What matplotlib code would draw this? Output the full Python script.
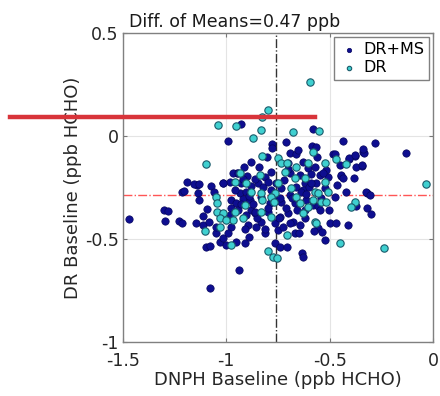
import matplotlib
matplotlib.use("Agg")
import matplotlib.pyplot as plt
from matplotlib.lines import Line2D

title_text = "Diff. of Means=0.47 ppb"
x_label = "DNPH Baseline (ppb HCHO)"
y_label = "DR Baseline (ppb HCHO)"
series_names = ["DR+MS", "DR"]
x_ticks = [-1.5, -1.0, -0.5, 0.0]
x_ticklabels = ["-1.5", "-1", "-0.5", "0"]
y_ticks = [-1.0, -0.5, 0.0, 0.5]
y_ticklabels = ["-1", "-0.5", "0", "0.5"]
mean_dnph = -0.76
mean_dr = -0.285

drms_x = [-0.93, -0.582, -0.992, -0.779, -0.711, -0.587, -0.437, -0.281, -0.131, -0.337,
          -0.377, -0.482, -0.406, -0.345, -0.447, -0.381, -0.321, -1.192, -1.216, -1.143,
          -1.074, -1.018, -0.947, -0.901, -0.914, -0.805, -0.693, -0.661, -0.629, -0.560,
          -0.605, -0.570, -0.516, -0.879, -0.968, -0.944, -0.812, -0.782, -0.693, -0.645,
          -0.592, -0.548, -0.508, -0.568, -0.984, -0.928, -0.879, -0.847, -0.823, -0.798,
          -0.758, -0.734, -0.661, -0.621, -0.629, -0.524, -0.936, -0.903, -0.693, -0.976,
          -0.952, -0.919, -0.887, -0.831, -0.790, -0.734, -0.669, -0.613, -0.581, -0.557,
          -0.976, -0.944, -0.879, -0.984, -0.903, -0.863, -0.798, -0.742, -0.702, -0.621,
          -0.677, -0.645, -0.557, -0.500, -0.831, -0.766, -0.895, -0.976, -1.158, -1.132,
          -1.016, -1.206, -1.137, -1.132, -1.303, -1.282, -1.471, -1.298, -1.229, -1.213,
          -1.113, -1.094, -1.148, -1.113, -1.084, -0.476, -0.452, -0.406, -0.379, -0.374,
          -0.342, -0.335, -0.444, -0.436, -0.465, -0.422, -0.323, -0.303, -0.476, -0.371,
          -0.319, -0.299, -0.468, -0.411, -1.100, -1.078, -1.032, -1.016, -1.051, -1.078,
          -1.000, -0.952, -0.911, -0.892, -0.814, -0.750, -0.669, -0.536, -0.521, -0.766,
          -0.742, -0.705, -0.634, -0.629, -0.939, -0.565, -0.653, -0.339,
          -0.860, -0.840, -0.720, -0.700, -0.680, -0.640, -0.600, -0.540, -0.530, -0.890,
          -0.870, -0.850, -0.800, -0.770, -0.740, -0.710, -0.660, -0.620, -0.590, -0.930,
          -0.910, -0.960, -0.855, -0.815, -0.725, -0.690, -0.650, -0.575, -0.545, -0.990,
          -1.050, -1.060, -0.785, -0.745, -0.615, -0.505, -0.860, -0.700, -0.780, -0.920]
drms_y = [0.057, 0.032, -0.023, -0.039, -0.028, -0.047, -0.023, -0.033, -0.081, -0.076,
          -0.097, -0.087, -0.113, -0.144, -0.193, -0.205, -0.278, -0.222, -0.270, -0.238,
          -0.241, -0.227, -0.181, -0.193, -0.152, -0.100, -0.084, -0.087, -0.125, -0.100,
          -0.157, -0.149, -0.165, -0.125, -0.181, -0.181, -0.198, -0.173, -0.181, -0.189,
          -0.184, -0.189, -0.198, -0.230, -0.222, -0.230, -0.243, -0.230, -0.246, -0.222,
          -0.230, -0.254, -0.246, -0.230, -0.262, -0.254, -0.278, -0.270, -0.286, -0.311,
          -0.327, -0.307, -0.311, -0.295, -0.327, -0.319, -0.327, -0.311, -0.335, -0.340,
          -0.351, -0.359, -0.359, -0.383, -0.383, -0.375, -0.367, -0.392, -0.375, -0.400,
          -0.416, -0.432, -0.448, -0.424, -0.416, -0.424, -0.432, -0.440, -0.234, -0.234,
          -0.230, -0.266, -0.275, -0.311, -0.359, -0.364, -0.401, -0.413, -0.413, -0.424,
          -0.388, -0.356, -0.424, -0.432, -0.416, -0.087, -0.141, -0.108, -0.092, -0.152,
          -0.141, -0.084, -0.189, -0.205, -0.238, -0.270, -0.273, -0.286, -0.298, -0.340,
          -0.351, -0.379, -0.421, -0.432, -0.540, -0.533, -0.513, -0.497, -0.472, -0.739,
          -0.529, -0.513, -0.521, -0.492, -0.472, -0.456, -0.469, -0.465, -0.505, -0.518,
          -0.540, -0.540, -0.567, -0.586, -0.650, -0.055, -0.068, -0.065,
          -0.210, -0.150, -0.215, -0.160, -0.300, -0.270, -0.250, -0.300, -0.180, -0.290,
          -0.330, -0.400, -0.350, -0.290, -0.300, -0.350, -0.360, -0.360, -0.230, -0.330,
          -0.450, -0.260, -0.440, -0.450, -0.440, -0.420, -0.470, -0.460, -0.360, -0.470,
          -0.440, -0.270, -0.260, -0.400, -0.280, -0.360, -0.370, -0.130, -0.060, -0.210]

dr_x = [-0.595, -0.800, -0.829, -1.042, -0.953, -0.831, -0.679, -0.550, -0.869, -1.100,
        -0.827, -0.034, -0.579, -0.750, -0.737, -0.705, -0.661, -0.605, -0.524, -0.936,
        -0.839, -0.718, -0.669, -0.618, -0.524, -0.960, -0.903, -0.879, -0.750, -0.766,
        -0.686, -0.573, -0.557, -0.508, -0.831, -0.911, -0.826, -0.782, -0.769, -0.661,
        -0.645, -0.581, -0.543, -0.519, -0.605, -0.960, -0.919, -0.831, -0.782, -0.629,
        -0.570, -0.968, -1.052, -1.045, -1.044, -1.016, -1.032, -1.032, -1.000, -0.471,
        -0.420, -0.376, -0.395, -1.105, -0.976, -0.705, -0.798, -0.774, -0.753, -0.449,
        -0.237, -0.566]
dr_y = [0.264, 0.126, 0.091, 0.053, 0.050, 0.029, 0.021, 0.024, -0.008, -0.137,
        -0.097, -0.235, -0.076, -0.108, -0.133, -0.130, -0.149, -0.133, -0.133, -0.181,
        -0.189, -0.173, -0.205, -0.205, -0.222, -0.222, -0.230, -0.270, -0.230, -0.278,
        -0.254, -0.270, -0.278, -0.270, -0.275, -0.335, -0.311, -0.295, -0.319, -0.295,
        -0.324, -0.311, -0.319, -0.319, -0.343, -0.367, -0.400, -0.367, -0.392, -0.375,
        -0.416, -0.408, -0.295, -0.327, -0.367, -0.375, -0.400, -0.443, -0.408, -0.113,
        -0.136, -0.319, -0.343, -0.461, -0.529, -0.481, -0.557, -0.586, -0.594, -0.518,
        -0.542, -0.421]

plt.rcParams['font.family'] = ['DejaVu Sans']
fig = plt.figure(figsize=(4.4, 3.96), dpi=100)
ax = fig.add_axes([0.2795, 0.1364, 0.7045, 0.7803])

ax.set_xlim(-1.5, 0)
ax.set_ylim(-1, 0.5)
ax.grid(True, color='#e4e4e4', linewidth=0.8, zorder=0)
ax.set_axisbelow(True)

ax.axvline(mean_dnph, color='#333333', linestyle='-.', linewidth=1.0, zorder=1)
ax.axhline(mean_dr, color='#ff5555', linestyle='-.', linewidth=1.0, zorder=1)

ax.scatter(drms_x, drms_y, s=28, c='#0e0e90', edgecolors='#06065e', linewidths=0.5,
           label=series_names[0], zorder=3)
ax.scatter(dr_x, dr_y, s=28, c='#3fd0d0', edgecolors='#1a5a6a', linewidths=0.8,
           label=series_names[1], zorder=4)

ax.set_xticks(x_ticks)
ax.set_xticklabels(x_ticklabels)
ax.set_yticks(y_ticks)
ax.set_yticklabels(y_ticklabels)
ax.tick_params(direction='in', length=3, color='#777777', labelsize=12.5,
               labelcolor='#262626', top=True, right=True, pad=3)
ax.tick_params(axis='x', pad=7)
for sp in ax.spines.values():
    sp.set_color('#808080')
    sp.set_linewidth(1.0)

ax.set_xlabel(x_label, fontsize=13, color='#262626', labelpad=1)
ax.set_ylabel(y_label, fontsize=13, color='#262626', labelpad=2)
ax.text(0.02, 1.005, title_text, transform=ax.transAxes, fontsize=12.5,
        color='#1a1a1a', ha='left', va='bottom')

leg = ax.legend(loc='upper right', fontsize=11.5, markerscale=0.6, handletextpad=0.3,
                borderpad=0.3, labelspacing=0.2, handlelength=1.2, fancybox=False,
                borderaxespad=0.25)
leg.get_frame().set_edgecolor('#808080')
leg.get_frame().set_linewidth(1.0)
leg.get_frame().set_alpha(1)

fig.add_artist(Line2D([10 / 440, 315 / 440], [1 - 117 / 396, 1 - 117 / 396],
                      transform=fig.transFigure, color='#d8343a', linewidth=3.2))

fig.savefig("out.png", dpi=100)
